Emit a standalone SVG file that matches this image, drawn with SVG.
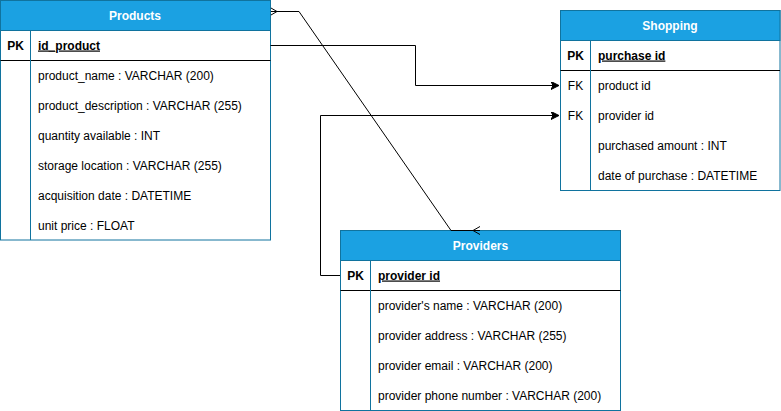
<svg xmlns="http://www.w3.org/2000/svg" width="781" height="411" viewBox="0 0 781 411">
<defs>
<style>
text{font-family:"Liberation Sans",Arial,sans-serif;font-size:12px;fill:#000}
.hdr{fill:#1BA1E2;stroke:#10739E;stroke-width:1}
.body{fill:#fff;stroke:#10739E;stroke-width:1}
.sep{stroke:#10739E;stroke-width:1}
.pkline{stroke:#000;stroke-width:1}
.title{font-weight:bold;fill:#fff;text-anchor:middle}
.key{font-weight:bold;text-anchor:middle}
.fk{text-anchor:middle}
.pkname{font-weight:bold;text-decoration:underline}
.edge{fill:none;stroke:#000;stroke-width:1}
</style>
<marker id="arr" markerWidth="10" markerHeight="10" refX="8" refY="4" orient="auto" markerUnits="userSpaceOnUse">
<path d="M0,0 L8,4 L0,8 L2,4 Z" fill="#000" stroke="#000" stroke-width="1"/>
</marker>
</defs>

<g id="products">
<rect class="body" x="0.5" y="0.5" width="270" height="239.5"/>
<rect class="hdr" x="0.5" y="0.5" width="270" height="30"/>
<line class="pkline" x1="0.5" y1="60.5" x2="270.5" y2="60.5"/>
<line class="sep" x1="30.5" y1="30.5" x2="30.5" y2="240"/>
<text class="title" x="135" y="19.5">Products</text>
<text class="key" x="15.5" y="49.5">PK</text>
<text class="pkname" x="38" y="49.5">id_product</text>
<text x="38" y="79.5">product_name : VARCHAR (200)</text>
<text x="38" y="109.5">product_description : VARCHAR (255)</text>
<text x="38" y="139.5">quantity available : INT</text>
<text x="38" y="169.5">storage location : VARCHAR (255)</text>
<text x="38" y="199.5">acquisition date : DATETIME</text>
<text x="38" y="229.5">unit price : FLOAT</text>
</g>

<g id="shopping">
<rect class="body" x="560.5" y="10.5" width="219.5" height="180"/>
<rect class="hdr" x="560.5" y="10.5" width="219.5" height="30"/>
<line class="pkline" x1="560.5" y1="70.5" x2="780" y2="70.5"/>
<line class="sep" x1="590.5" y1="40.5" x2="590.5" y2="190.5"/>
<text class="title" x="670" y="29.5">Shopping</text>
<text class="key" x="575.5" y="59.5">PK</text>
<text class="pkname" x="598" y="59.5">purchase id</text>
<text class="fk" x="575.5" y="89.5">FK</text>
<text x="598" y="89.5">product id</text>
<text class="fk" x="575.5" y="119.5">FK</text>
<text x="598" y="119.5">provider id</text>
<text x="598" y="149.5">purchased amount : INT</text>
<text x="598" y="179.5">date of purchase : DATETIME</text>
</g>

<g id="providers">
<rect class="body" x="340.5" y="230.5" width="280" height="180"/>
<rect class="hdr" x="340.5" y="230.5" width="280" height="30"/>
<line class="pkline" x1="340.5" y1="290.5" x2="620.5" y2="290.5"/>
<line class="sep" x1="370.5" y1="260.5" x2="370.5" y2="410.5"/>
<text class="title" x="480.5" y="249.5">Providers</text>
<text class="key" x="355.5" y="279.5">PK</text>
<text class="pkname" x="378" y="279.5">provider id</text>
<text x="378" y="309.5">provider's name : VARCHAR (200)</text>
<text x="378" y="339.5">provider address : VARCHAR (255)</text>
<text x="378" y="369.5">provider email : VARCHAR (200)</text>
<text x="378" y="399.5">provider phone number : VARCHAR (200)</text>
</g>

<g id="connectors">
<path class="edge" d="M270.5,45.5 H415.5 V85.5 H559" marker-end="url(#arr)"/>
<path class="edge" d="M340,275.5 H320.5 V115.5 H559" marker-end="url(#arr)"/>
<path class="edge" d="M271,11.5 H299 L451,230.5 H480"/>
<path class="edge" d="M271,8 L277,11.5 L271,15 M271,11.5 H277"/>
<path class="edge" d="M480,226.5 L473,230.5 L480,234.5"/>
</g>
</svg>
